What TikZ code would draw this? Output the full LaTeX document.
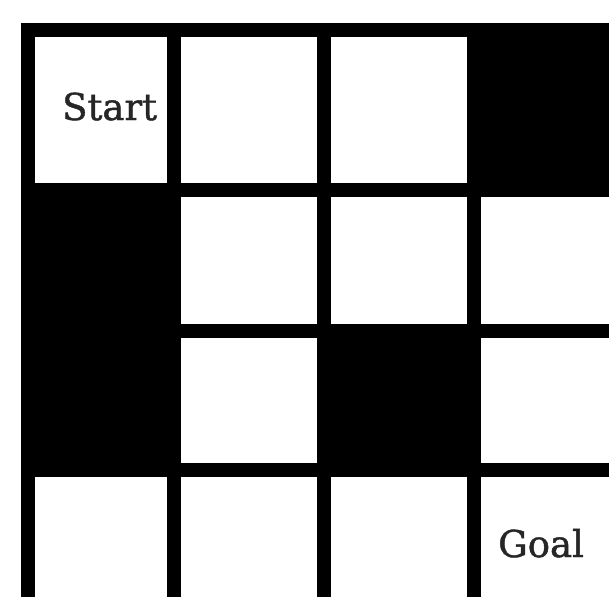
\documentclass[tikz,border=0pt]{standalone}
\usepackage{fontspec}
\setmainfont{DejaVu Serif}
\newfontfamily\labelfont[FakeBold=1.2]{DejaVu Serif}

\begin{document}
\begin{tikzpicture}[x=1pt, y=-1pt,
    wall/.style={fill=black},
    gridline/.style={black, line width=14pt},
    cellname/.style={anchor=base west, inner sep=0pt, text=black!85,
      font=\labelfont\fontsize{37}{44}\selectfont}]
  \useasboundingbox (0,0) rectangle (609,597);
  % --- Blocked cells ---
  \fill[wall] (467,23) rectangle (609,196);
  \fill[wall] (21,183) rectangle (181,477);
  \fill[wall] (317,324) rectangle (481,477);
  % --- Grid lines ---
  \foreach \x in {28,174,323.5,474} {
    \draw[gridline] (\x,23) -- (\x,597);
  }
  \foreach \y in {30,189.5,330.5,470} {
    \draw[gridline] (21,\y) -- (609,\y);
  }
  % --- Labels ---
  \node[cellname] (start) at (62,120) {Start};
  \node[cellname] (goal) at (498,557) {Goal};
\end{tikzpicture}
\end{document}
